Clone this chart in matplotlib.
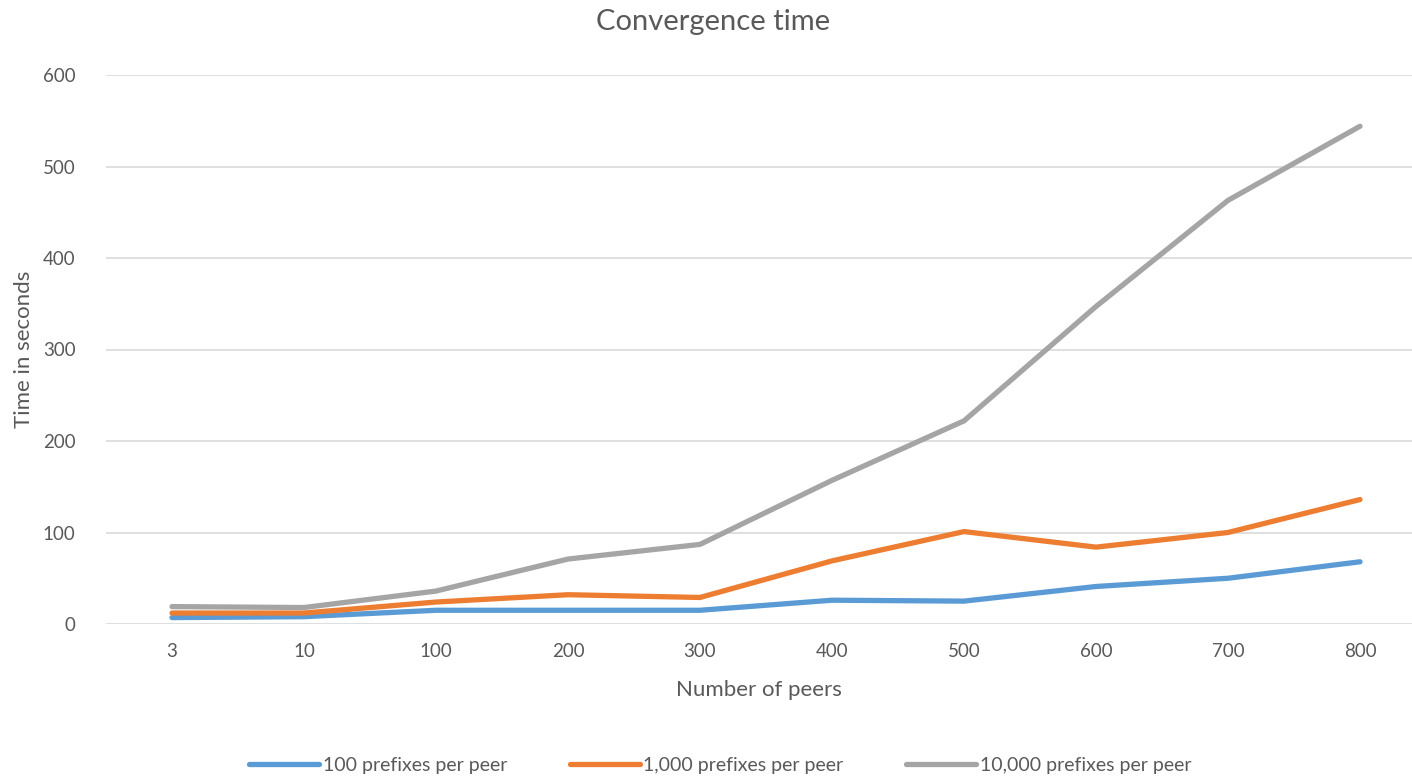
import matplotlib.pyplot as plt
import numpy as np

# Data
peers = ['3', '10', '100', '200', '300', '400', '500', '600', '700', '800']
prefix_100 = [7, 8, 15, 15, 15, 26, 25, 41, 50, 68]
prefix_1000 = [12, 12, 24, 32, 29, 69, 101, 84, 100, 136]
prefix_10000 = [19, 18, 36, 71, 87, 157, 222, 347, 463, 544]

series_names = ['100 prefixes per peer', '1,000 prefixes per peer', '10,000 prefixes per peer']
colors = ['#5B9BD5', '#ED7D31', '#A5A5A5']

plt.rcParams['font.family'] = ['Lato', 'DejaVu Sans']
text_color = '#595959'

fig = plt.figure(figsize=(14.12, 7.78), dpi=100)
ax = fig.add_axes([106 / 1412, 1 - 624 / 778, 1 - 106 / 1412, (624 - 75) / 778])

x = np.arange(len(peers))
for vals, name, c in zip([prefix_100, prefix_1000, prefix_10000], series_names, colors):
    ax.plot(x, vals, color=c, linewidth=3.8, label=name,
            solid_capstyle='round', solid_joinstyle='round', zorder=3)

ax.set_xlim(-0.5, (1412 - 172) / 132)
ax.set_ylim(0, 600)
ax.set_yticks(range(0, 601, 100))
ax.set_xticks(x)
ax.set_xticklabels(peers)
ax.grid(axis='y', color='#D9D9D9', linewidth=1.2, zorder=0)
for s in ax.spines.values():
    s.set_visible(False)
ax.tick_params(axis='both', length=0, labelsize=13.5, colors=text_color)
ax.tick_params(axis='x', pad=14)
ax.tick_params(axis='y', pad=22)

ax.set_xlabel('Number of peers', fontsize=16, color=text_color, labelpad=14)
ax.set_ylabel('Time in seconds', fontsize=16, color=text_color, labelpad=6)
fig.text(0.505, 0.972, 'Convergence time', ha='center', va='center',
         fontsize=21, color=text_color)

fig.legend(loc='center', bbox_to_anchor=(0.51, 1 - 765 / 778), ncol=3,
           frameon=False, fontsize=14, handlelength=3.6, columnspacing=3.2,
           handletextpad=0.2, labelcolor=text_color)

fig.savefig('out.png', dpi=100)
